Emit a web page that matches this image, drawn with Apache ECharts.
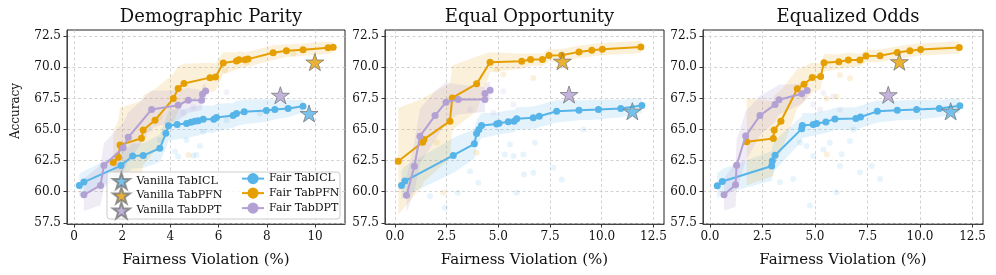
<!DOCTYPE html>
<html><head><meta charset="utf-8">
<script src="https://cdn.jsdelivr.net/npm/echarts@6/dist/echarts.min.js"></script>
<style>html,body{margin:0;padding:0;background:#fff}#c{width:996px;height:275px}</style>
</head><body><div id="c"></div>
<script>
// ---------- DATA ----------
const panelTitles = ['Demographic Parity', 'Equal Opportunity', 'Equalized Odds'];
const xTicksDP = [0, 2, 4, 6, 8, 10];
const xTicksEO = [0, 2.5, 5, 7.5, 10, 12.5];
const yTicks = [57.5, 60, 62.5, 65, 67.5, 70, 72.5];

// Demographic Parity
const dpIclX = [0.22,0.41,1.95,2.43,2.87,3.56,3.81,3.92,4.28,4.67,4.85,5.01,5.15,5.36,5.80,5.91,6.60,6.74,7.06,7.98,8.33,8.88,9.50];
const dpIclY = [60.50,60.77,62.10,62.87,62.90,63.49,64.69,65.30,65.41,65.49,65.59,65.67,65.70,65.83,65.83,65.97,66.13,66.29,66.42,66.53,66.61,66.69,66.87];
const dpIclW = [0.9,0.9,1.0,1.0,1.0,1.1,1.2,1.2,1.2,1.2,1.2,1.2,1.2,1.1,1.1,1.1,1.0,1.0,1.0,0.9,0.8,0.7,0.5];
const dpPfnX = [1.63,1.84,1.91,2.80,2.87,3.36,4.12,4.32,4.56,5.64,5.87,6.19,6.74,6.84,7.09,7.22,8.26,8.81,9.50,10.54,10.75];
const dpPfnY = [62.34,62.77,63.75,64.29,64.95,65.75,67.49,68.29,68.69,69.17,69.22,70.34,70.50,70.60,70.60,70.66,71.17,71.33,71.41,71.57,71.62];
const dpPfnW = [2.5,3.0,3.0,3.0,2.8,2.5,2.0,1.8,1.6,1.2,1.1,0.9,0.7,0.7,0.6,0.6,0.6,0.5,0.5,0.5,0.4];
const dpDptX = [0.41,1.10,1.24,2.04,2.25,3.22,4.32,4.74,5.29,5.33,5.46];
const dpDptY = [59.75,60.50,62.10,63.54,64.37,66.61,66.95,67.35,67.35,67.83,68.10];
const dpDptW = [1.3,1.6,1.8,2.0,2.0,1.5,1.2,1.0,0.8,0.7,0.6];
const dpVanilla = { icl: [9.75, 66.29], pfn: [9.99, 70.42], dpt: [8.56, 67.75] };
const dpFaintIcl = [[4.19,63.22],[4.94,62.90],[5.08,62.95],[5.22,63.67],[4.67,64.15],[5.36,64.82],[6.33,65.75],[7.71,66.29],[3.56,64.15],[4.32,62.82]];
const dpFaintPfn = [[4.74,62.95],[7.15,70.40],[9.10,71.10],[6.26,69.75],[3.56,66.00]];
const dpFaintDpt = [[4.53,66.30],[6.33,68.00],[4.94,66.80],[3.15,65.00]];

// Equal Opportunity
const eopIclX = [0.32,0.48,2.82,3.84,3.95,4.06,4.19,4.92,5.03,5.48,5.76,5.89,6.69,6.98,7.82,8.90,9.84,10.92,11.94];
const eopIclY = [60.50,60.85,62.91,63.85,64.68,65.00,65.32,65.45,65.51,65.62,65.67,65.86,65.94,66.07,66.47,66.55,66.61,66.69,66.93];
const eopIclW = [1.2,1.2,1.4,1.2,1.1,1.0,1.0,0.9,0.9,0.9,0.9,0.9,0.9,0.9,0.9,0.8,0.8,0.7,0.6];
const eopPfnX = [0.16,1.34,1.40,2.66,2.77,3.95,4.60,6.13,6.56,7.13,7.45,8.06,8.90,9.52,10.03,11.89];
const eopPfnY = [62.45,63.98,64.20,65.67,67.54,68.67,70.41,70.49,70.62,70.62,70.95,70.97,71.24,71.37,71.46,71.64];
const eopPfnW = [4.3,3.5,3.4,3.0,2.6,2.2,0.8,0.6,0.5,0.5,0.5,0.5,0.5,0.5,0.5,0.5];
const eopDptX = [0.56,0.94,1.21,1.94,2.47,3.06,4.35,4.35,4.60];
const eopDptY = [59.72,62.05,64.46,66.12,67.20,67.41,67.41,67.89,68.16];
const eopDptW = [1.4,2.0,2.2,2.0,1.6,1.2,1.0,0.8,0.7];
const eopVanilla = { icl: [11.48, 66.47], pfn: [8.10, 70.49], dpt: [8.42, 67.81] };
const eopFaintIcl = [[5.56,63.79],[5.32,62.99],[5.73,62.86],[6.21,62.99],[6.24,61.38],[6.69,61.52],[6.77,63.93],[7.66,61.92],[8.06,60.98],[9.11,65.00],[3.63,61.65],[4.03,60.71],[3.03,59.91],[1.69,59.64],[2.42,58.70],[5.89,59.91]];
const eopFaintPfn = [[5.24,69.42],[6.69,69.15],[3.95,63.12],[2.02,63.93],[2.34,59.91],[4.92,69.82]];
const eopFaintDpt = [[5.24,68.08],[5.73,67.01],[4.76,66.34],[3.63,66.61]];

// Equalized Odds
const eodIclX = [0.35,0.59,2.94,2.97,3.10,4.37,4.40,4.92,5.08,5.52,5.95,6.95,7.17,7.97,8.92,9.84,10.92,11.90];
const eodIclY = [60.48,60.82,62.07,62.47,62.93,65.05,65.32,65.40,65.48,65.61,65.85,65.88,66.01,66.46,66.54,66.60,66.68,66.91];
const eodIclW = [1.0,1.0,1.2,1.2,1.2,1.0,1.0,0.9,0.9,0.9,0.9,0.9,0.9,0.9,0.8,0.8,0.7,0.6];
const eodPfnX = [1.75,3.02,3.06,3.38,4.16,4.48,4.87,5.27,5.43,6.14,6.59,7.14,7.43,8.10,8.92,9.52,10.03,11.87];
const eodPfnY = [64.02,64.28,64.95,65.66,68.27,68.64,69.18,69.26,70.37,70.45,70.59,70.59,70.90,70.93,71.20,71.33,71.44,71.60];
const eodPfnW = [3.5,3.0,2.8,2.5,1.6,1.4,1.2,1.0,0.7,0.6,0.6,0.5,0.5,0.5,0.5,0.5,0.5,0.5];
const eodDptX = [0.67,1.22,1.27,1.70,2.38,3.10,3.29,4.37,4.63];
const eodDptY = [59.76,60.56,62.13,64.47,66.12,67.00,67.39,67.87,68.14];
const eodDptW = [1.3,1.8,2.0,2.0,1.6,1.4,1.2,0.8,0.6];
const eodVanilla = { icl: [11.46, 66.46], pfn: [9.02, 70.45], dpt: [8.49, 67.79] };
const eodFaintIcl = [[4.29,63.94],[4.60,63.67],[4.92,62.87],[5.40,63.40],[5.71,63.94],[6.19,62.07],[6.27,63.00],[6.67,64.07],[6.83,65.00],[7.70,62.07],[8.10,61.01],[7.14,61.54],[6.03,59.95],[3.97,61.01],[4.76,58.88],[3.33,60.75]];
const eodFaintPfn = [[5.56,63.00],[6.03,67.66],[6.19,69.39],[6.67,69.12],[5.56,67.50]];
const eodFaintDpt = [[5.40,67.93],[4.92,67.00],[5.87,67.66],[6.19,66.60],[5.24,66.60]];

// ---------- STYLE / LAYOUT ----------
const FONT = '"DejaVu Serif", serif';
const C = { icl: '#56B4E9', pfn: '#E69F00', dpt: '#B3A1D3' };
const BAND = { icl: 'rgba(86,180,233,0.17)', pfn: 'rgba(230,159,0,0.14)', dpt: 'rgba(179,161,211,0.20)' };
const NAMES = { icl: 'TabICL', pfn: 'TabPFN', dpt: 'TabDPT' };

const starPath = (function () {
  const pts = [];
  for (let k = 0; k < 10; k++) {
    const r = k % 2 === 0 ? 1 : 0.382;
    const a = -Math.PI / 2 + k * Math.PI / 5;
    pts.push(((r * Math.cos(a)) * 50 + 50).toFixed(2) + ',' + ((r * Math.sin(a)) * 50 + 50).toFixed(2));
  }
  return 'path://M' + pts.join('L') + 'Z';
})();

const grids = [
  { left: 67, top: 30, width: 278, height: 194 },
  { left: 385, top: 30, width: 279, height: 194 },
  { left: 703, top: 30, width: 280, height: 194 }
];
const xRanges = [[-0.29, 11.24], [-0.48, 13.01], [-0.33, 13.0]];
const xTicks = [xTicksDP, xTicksEO, xTicksEO];

const panels = [
  { icl: [dpIclX, dpIclY, dpIclW], pfn: [dpPfnX, dpPfnY, dpPfnW], dpt: [dpDptX, dpDptY, dpDptW], van: dpVanilla, faint: { icl: dpFaintIcl, pfn: dpFaintPfn, dpt: dpFaintDpt } },
  { icl: [eopIclX, eopIclY, eopIclW], pfn: [eopPfnX, eopPfnY, eopPfnW], dpt: [eopDptX, eopDptY, eopDptW], van: eopVanilla, faint: { icl: eopFaintIcl, pfn: eopFaintPfn, dpt: eopFaintDpt } },
  { icl: [eodIclX, eodIclY, eodIclW], pfn: [eodPfnX, eodPfnY, eodPfnW], dpt: [eodDptX, eodDptY, eodDptW], van: eodVanilla, faint: { icl: eodFaintIcl, pfn: eodFaintPfn, dpt: eodFaintDpt } }
];

function bandRenderer(fill) {
  return function (params, api) {
    if (params.dataIndexInside !== 0) return null;
    const n = params.dataInsideLength;
    const top = [], bot = [];
    for (let i = 0; i < n; i++) {
      const x = api.value(0, i);
      top.push(api.coord([x, api.value(2, i)]));
      bot.push(api.coord([x, api.value(1, i)]));
    }
    return { type: 'polygon', shape: { points: top.concat(bot.reverse()) }, style: { fill: fill }, silent: true };
  };
}

const xAxes = [], yAxes = [], series = [], titles = [];
grids.forEach((g, i) => {
  titles.push({
    text: panelTitles[i], left: g.left + g.width / 2, top: 3, textAlign: 'center',
    textStyle: { fontFamily: FONT, fontSize: 18, fontWeight: 'normal', color: '#111' }
  });
  xAxes.push({
    type: 'value', gridIndex: i, min: xRanges[i][0], max: xRanges[i][1],
    name: 'Fairness Violation (%)', nameLocation: 'middle', nameGap: 29,
    nameTextStyle: { fontFamily: FONT, fontSize: 15, color: '#111' },
    axisLine: { show: true, onZero: false, lineStyle: { color: '#444', width: 1 } },
    axisTick: { show: true, length: 3.5, inside: false, customValues: xTicks[i], lineStyle: { color: '#333' } },
    axisLabel: { customValues: xTicks[i], fontFamily: FONT, fontSize: 12, color: '#111', margin: 7,
      formatter: v => (i === 0 ? String(v) : v.toFixed(1)) },
    splitLine: { show: true, lineStyle: { color: '#c8c8c8', type: [3, 2.5], width: 0.8 } }
  });
  yAxes.push({
    type: 'value', gridIndex: i, min: 57.4, max: 73.0,
    axisLine: { show: true, onZero: false, lineStyle: { color: '#444', width: 1 } },
    axisTick: { show: true, length: 3.5, customValues: yTicks, lineStyle: { color: '#333' } },
    axisLabel: { customValues: yTicks, fontFamily: FONT, fontSize: 12, color: '#111', margin: 6,
      formatter: v => v.toFixed(1) },
    splitLine: { show: true, lineStyle: { color: '#c8c8c8', type: [3, 2.5], width: 0.8 } }
  });
  const p = panels[i];
  ['icl', 'pfn', 'dpt'].forEach(k => {
    const [xs, ys, ws] = p[k];
    series.push({
      type: 'custom', xAxisIndex: i, yAxisIndex: i, z: 1, silent: true,
      renderItem: bandRenderer(BAND[k]),
      encode: { x: 0, y: [1, 2] },
      data: xs.map((x, j) => [x, ys[j] - ws[j], ys[j] + ws[j]])
    });
    series.push({
      type: 'scatter', xAxisIndex: i, yAxisIndex: i, z: 2, silent: true,
      symbolSize: 6, itemStyle: { color: C[k], opacity: 0.14 },
      data: p.faint[k]
    });
  });
  ['icl', 'pfn', 'dpt'].forEach((k, kk) => {
    const [xs, ys] = p[k];
    series.push({
      name: 'Fair ' + NAMES[k], type: 'line', xAxisIndex: i, yAxisIndex: i, z: 3 + kk * 0.1,
      symbol: 'circle', symbolSize: 7, showSymbol: true,
      lineStyle: { color: C[k], width: 2 }, itemStyle: { color: C[k] },
      data: xs.map((x, j) => [x, ys[j]])
    });
  });
  ['icl', 'pfn', 'dpt'].forEach(k => {
    series.push({
      name: 'Vanilla ' + NAMES[k], type: 'scatter', xAxisIndex: i, yAxisIndex: i, z: 5,
      symbol: starPath, symbolSize: 18, symbolKeepAspect: true,
      itemStyle: { color: C[k], borderColor: '#7a7a7a', borderWidth: 1 },
      data: [p.van[k]]
    });
  });
});

const legendText = { fontFamily: FONT, fontSize: 11, color: '#111' };
const legendRows = [180, 194.5, 209.5];
const legends = [];
['icl', 'pfn', 'dpt'].forEach((k, r) => {
  legends.push({ left: 112, top: legendRows[r] - 8, padding: 0, itemWidth: 20, itemHeight: 16, z: 20,
    selectedMode: false, textStyle: legendText,
    data: [{ name: 'Vanilla ' + NAMES[k], icon: starPath }] });
  legends.push({ left: 241, top: legendRows[r] - 7, padding: 0, itemWidth: 22, itemHeight: 14, z: 20,
    selectedMode: false, textStyle: legendText,
    data: ['Fair ' + NAMES[k]] });
});

const option = {
  animation: false,
  backgroundColor: '#fff',
  textStyle: { fontFamily: FONT },
  title: titles,
  grid: grids.map(g => Object.assign({ show: true, borderColor: '#222', borderWidth: 1, backgroundColor: 'transparent' }, g)),
  xAxis: xAxes,
  yAxis: yAxes,
  legend: legends,
  graphic: [
    { type: 'rect', x: 107, y: 172, z: 15, shape: { width: 233, height: 47, r: 3 },
      style: { fill: 'rgba(255,255,255,0.8)', stroke: '#cccccc', lineWidth: 1 } },
    { type: 'text', x: 16, y: 111, rotation: Math.PI / 2, z: 15,
      style: { text: 'Accuracy', font: '12px ' + FONT, fill: '#111', align: 'center', verticalAlign: 'middle' } }
  ],
  series: series
};
const chart = echarts.init(document.getElementById('c'), null, { renderer: 'canvas' });
chart.setOption(option);
</script></body></html>
